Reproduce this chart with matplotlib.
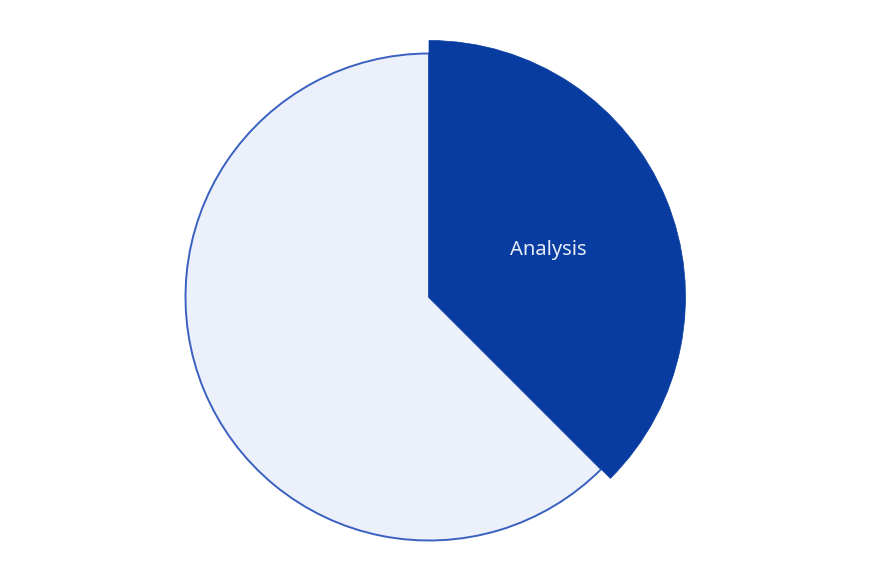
import numpy as np
import matplotlib.pyplot as plt

# data
categories = ["Analysis", "Other"]
values = [37.5, 62.5]
colors = ["#083ca0", "#ecf0fb"]

fig = plt.figure(figsize=(8.7, 5.8), dpi=100)
ax = fig.add_axes([0, 0, 1, 1])

# one data unit = one pixel, pie centre at (429, 297) from the top-left
r = 243.5
wedges, texts = ax.pie(values, colors=colors, startangle=90, counterclock=False,
                       radius=r, labels=None,
                       wedgeprops=dict(linewidth=1.4, edgecolor="#3a60c0"))

# the highlighted slice sticks out a bit and has no outline
wedges[0].set_radius(256.5)
wedges[0].set_edgecolor(colors[0])
wedges[0].set_linewidth(0.5)
wedges[0].set_zorder(3)

# label in the middle of the highlighted slice
mid = np.deg2rad(90 - values[0] / sum(values) * 360 / 2)
ax.text(0.53 * r * np.cos(mid), 0.53 * r * np.sin(mid), categories[0],
        ha="center", va="center_baseline", color="#e6ecf8", fontsize=14.5,
        family="Noto Sans", zorder=4)

ax.set_xlim(-429, 441)
ax.set_ylim(-283, 297)
ax.set_aspect("equal")
ax.axis("off")

fig.savefig("out.png", dpi=100)
